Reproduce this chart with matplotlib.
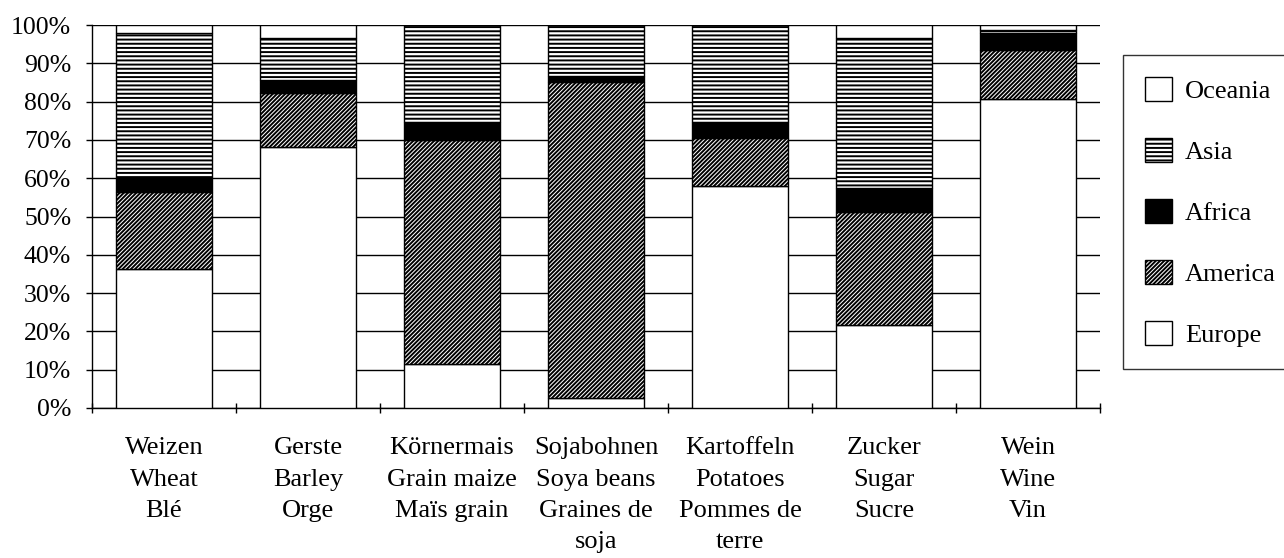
import numpy as np
import matplotlib
matplotlib.use("Agg")
import matplotlib.pyplot as plt
from matplotlib.patches import Patch
from matplotlib.ticker import FixedLocator, PercentFormatter

# Parts de la production par continent (%)
categories = [
    "Weizen\nWheat\nBlé",
    "Gerste\nBarley\nOrge",
    "Körnermais\nGrain maize\nMaïs grain",
    "Sojabohnen\nSoya beans\nGraines de\nsoja",
    "Kartoffeln\nPotatoes\nPommes de\nterre",
    "Zucker\nSugar\nSucre",
    "Wein\nWine\nVin",
]
europe = [36.3, 68.2, 11.4, 2.5, 58.0, 21.7, 80.7]
america = [20.2, 14.0, 58.6, 82.7, 12.6, 29.6, 12.8]
africa = [3.5, 3.4, 4.8, 1.5, 4.2, 6.1, 4.3]
asia = [37.9, 11.1, 25.1, 13.2, 25.1, 39.3, 0.9]
oceania = [2.1, 3.3, 0.1, 0.1, 0.1, 3.3, 1.3]

series = [
    ("Europe", europe, "white", ""),
    ("America", america, "white", "////////"),
    ("Africa", africa, "black", ""),
    ("Asia", asia, "white", "----"),
    ("Oceania", oceania, "white", ""),
]

FS = 19
plt.rcParams["font.family"] = ["Liberation Serif", "DejaVu Serif"]
plt.rcParams["hatch.linewidth"] = 1.4
plt.rcParams["hatch.color"] = "black"

fig = plt.figure(figsize=(12.84, 5.58), dpi=100)
ax = fig.add_axes([92 / 1284, 1 - 408 / 558, (1100 - 92) / 1284, (408 - 25) / 558])

x = np.arange(len(categories))
bottom = np.zeros(len(categories))
for name, vals, fc, hatch in series:
    ax.bar(x, vals, width=0.667, bottom=bottom, color=fc, edgecolor="black",
           linewidth=1.0, hatch=hatch, zorder=3)
    bottom += np.array(vals)

# Axes
ax.set_xlim(-0.5, len(categories) - 0.5)
ax.set_ylim(0, 100)
ax.yaxis.set_major_locator(FixedLocator(np.arange(0, 101, 10)))
ax.yaxis.set_major_formatter(PercentFormatter(decimals=0))
ax.grid(axis="y", color="black", linewidth=1.0, zorder=0)
ax.set_axisbelow(True)

for s in ["top", "right"]:
    ax.spines[s].set_visible(False)
ax.spines["left"].set_linewidth(1.0)
ax.spines["bottom"].set_linewidth(1.0)

ax.set_xticks(x)
ax.set_xticklabels(categories, fontsize=FS, linespacing=1.55)
ax.tick_params(axis="x", which="major", length=0, pad=21)
ax.set_xticks(np.arange(-0.5, len(categories), 1.0), minor=True)
ax.tick_params(axis="x", which="minor", direction="inout", length=7, width=1.0)
ax.tick_params(axis="y", direction="out", length=4, width=1.0, labelsize=18.5, pad=11)

# Légende
handles = [Patch(facecolor=fc, edgecolor="black", hatch=hatch, linewidth=1.0, label=name)
           for name, vals, fc, hatch in reversed(series)]
leg = fig.legend(handles=handles, loc="upper left",
                 bbox_to_anchor=(1123 / 1284, 1 - 55 / 558),
                 fontsize=FS, frameon=True, fancybox=False, edgecolor="black",
                 handlelength=1.0, handleheight=1.0, handletextpad=0.5,
                 labelspacing=1.33, borderpad=0.85, borderaxespad=0)
leg.get_frame().set_linewidth(1.0)

fig.savefig("out.png", dpi=100)
